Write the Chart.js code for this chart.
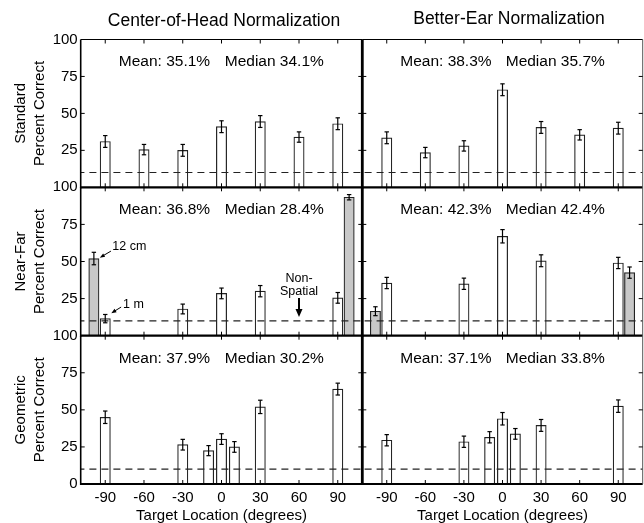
<!DOCTYPE html>
<html><head><meta charset="utf-8">
<script src="https://cdn.jsdelivr.net/npm/chart.js@4.4.1/dist/chart.umd.min.js"></script>
<style>
html,body{margin:0;padding:0;background:#fff;}
body{width:644px;height:523px;position:relative;overflow:hidden;}
</style></head><body>
<script>
// ---------- data ----------
const xTicks = [-90, -60, -30, 0, 30, 60, 90];
const xTickLabels = ['-90', '-60', '-30', '0', '30', '60', '90'];
const yTicks = [0, 25, 50, 75, 100];
const yTickLabels = ['0', '25', '50', '75', '100'];
const columnTitles = ['Center-of-Head Normalization', 'Better-Ear Normalization'];
const rowLabels = ['Standard', 'Near-Far', 'Geometric'];
const yAxisSubLabel = 'Percent Correct';
const xAxisLabel = 'Target Location (degrees)';
const chanceLevel = 10;

// Standard
const stdLocs = [-90, -60, -30, 0, 30, 60, 90];
const stdCohVals = [31, 25.5, 25, 41, 44.5, 34, 43];
const stdCohErr = [4, 3.5, 4, 4, 4, 3.5, 4];
const stdBeVals = [33.5, 23.5, 28, 66, 40.5, 35.5, 40];
const stdBeErr = [4, 3.5, 3.5, 4, 4, 3.5, 4];
const stdCohStats = ['Mean: 35.1%', 'Median 34.1%'];
const stdBeStats = ['Mean: 38.3%', 'Median 35.7%'];

// Near-Far : 1 m (white) and 12 cm (gray)
const nfFarLocs = [-90, -30, 0, 30, 90];
const nfNearLocs = [-90, 90];
const nfCohFarVals = [11.5, 18, 28.5, 30, 25.5];
const nfCohFarErr = [2.8, 3.3, 3.6, 3.8, 3.6];
const nfCohNearVals = [52, 93.3];
const nfCohNearErr = [4.2, 1.8];
const nfBeFarVals = [35.5, 35, 67, 50.5, 49];
const nfBeFarErr = [3.8, 3.8, 4.5, 4, 3.8];
const nfBeNearVals = [16.5, 42.5];
const nfBeNearErr = [3, 3.8];
const nfCohStats = ['Mean: 36.8%', 'Median 28.4%'];
const nfBeStats = ['Mean: 42.3%', 'Median 42.4%'];
const nearLabel = '12 cm';
const farLabel = '1 m';
const nonSpatialLabel = ['Non-', 'Spatial'];

// Geometric
const geoLocs = [-90, -30, -10, 0, 10, 30, 90];
const geoCohVals = [45, 26.5, 22.5, 30.3, 25, 52, 64];
const geoCohErr = [4.2, 3.6, 3.4, 3.6, 3.6, 4.5, 4];
const geoBeVals = [29.5, 28.5, 31.5, 44, 33.8, 39.5, 52.5];
const geoBeErr = [3.8, 3.8, 3.8, 4.2, 3.6, 4, 4.2];
const geoCohStats = ['Mean: 37.9%', 'Median 30.2%'];
const geoBeStats = ['Mean: 37.1%', 'Median 33.8%'];

// ---------- styling / layout ----------
const FONT = '"Liberation Sans", Arial, Helvetica, sans-serif';
Chart.defaults.font.family = FONT;
Chart.defaults.color = '#000';
const NEAR_SHIFT = 8.8;       // gray bars drawn just outside their location
const BAR_PX = 10.3;
const COL = [
  {left: 0, width: 366, padL: 0, padR: 3.7},
  {left: 358, width: 286, padL: 4.3, padR: 1.3}
];
const ROW = [
  {top: 0, height: 202, padT: 39.5, padB: 14.7},
  {top: 172, height: 180, padT: 15.3, padB: 16.3},
  {top: 320, height: 203, padT: 15.7, padB: 0}
];
const TITLE_POS = [{dx: 2.5, y: 21.3}, {dx: 6.5, y: 19.3}];
const PANEL_INFO = {};

function line(ctx, x1, y1, x2, y2, w, c) {
  ctx.lineWidth = w; ctx.strokeStyle = c || '#000';
  ctx.beginPath(); ctx.moveTo(x1, y1); ctx.lineTo(x2, y2); ctx.stroke();
}
function arrow(ctx, x1, y1, x2, y2, w, hl, hw) {
  const ang = Math.atan2(y2 - y1, x2 - x1);
  line(ctx, x1, y1, x2 - (hl - 1) * Math.cos(ang), y2 - (hl - 1) * Math.sin(ang), w);
  ctx.fillStyle = '#000';
  ctx.beginPath();
  ctx.moveTo(x2, y2);
  ctx.lineTo(x2 - hl * Math.cos(ang) + hw / 2 * Math.sin(ang), y2 - hl * Math.sin(ang) - hw / 2 * Math.cos(ang));
  ctx.lineTo(x2 - hl * Math.cos(ang) - hw / 2 * Math.sin(ang), y2 - hl * Math.sin(ang) + hw / 2 * Math.cos(ang));
  ctx.closePath(); ctx.fill();
}

const deco = {
  id: 'deco',
  afterDatasetsDraw(chart) {
    const info = PANEL_INFO[chart.canvas.id];
    const ctx = chart.ctx, xs = chart.scales.x, ys = chart.scales.y, a = chart.chartArea;
    ctx.save();
    // chance level
    const yc = ys.getPixelForValue(chanceLevel);
    ctx.setLineDash([7, 5]);
    ctx.lineDashOffset = -((a.left + COL[info.col].left) % 12);
    line(ctx, a.left, yc, a.right, yc, 1.1, '#222');
    ctx.setLineDash([]);
    // error bars
    chart.data.datasets.forEach((ds, i) => {
      const meta = chart.getDatasetMeta(i);
      meta.data.forEach((el, j) => {
        const v = ds.data[j].y, e = ds.errs[j];
        const x = el.x, y1 = ys.getPixelForValue(v + e), y2 = ys.getPixelForValue(v - e);
        line(ctx, x, y1, x, y2, 1.2);
        line(ctx, x - 2.2, y1, x + 2.2, y1, 1.2);
        line(ctx, x - 2.2, y2, x + 2.2, y2, 1.2);
      });
    });
    // frame
    if (info.row === 0) line(ctx, a.left, a.top, a.right, a.top, 1);
    line(ctx, a.left, a.bottom, a.right, a.bottom, 2.2);
    if (info.col === 0) line(ctx, a.left, a.top, a.left, a.bottom + 1, 1.6);
    else {
      line(ctx, a.left, a.top, a.left, a.bottom + 1, 2.8);
      line(ctx, a.right, a.top, a.right, a.bottom, 1, '#555');
    }
    // inward ticks
    xTicks.forEach(v => {
      const x = xs.getPixelForValue(v);
      line(ctx, x, a.top, x, a.top + 4, 1);
      line(ctx, x, a.bottom, x, a.bottom - 4, 1);
    });
    yTicks.slice(1, -1).forEach(v => {
      const y = ys.getPixelForValue(v);
      line(ctx, a.left, y, a.left + 4, y, 1);
      line(ctx, a.right, y, a.right - 4, y, 1);
    });
    // stats
    ctx.fillStyle = '#000';
    ctx.font = '15.5px ' + FONT;
    ctx.textAlign = 'left'; ctx.textBaseline = 'middle';
    const ys1 = ys.getPixelForValue(84.7);
    ctx.fillText(info.stats[0], xs.getPixelForValue(-79.5), ys1);
    ctx.fillText(info.stats[1], xs.getPixelForValue(2.5), ys1);
    // column title
    if (info.row === 0) {
      ctx.font = '17.5px ' + FONT;
      ctx.textAlign = 'center';
      const tp = TITLE_POS[info.col];
      ctx.fillText(columnTitles[info.col], (a.left + a.right) / 2 + tp.dx, tp.y - ROW[0].top);
    }
    // annotations
    if (info.notes) {
      const P = (x, y) => [xs.getPixelForValue(x), ys.getPixelForValue(y)];
      ctx.font = '12.5px ' + FONT;
      ctx.textAlign = 'left';
      let t = P(-84.5, 59.8); ctx.fillText(nearLabel, t[0], t[1]);
      let p1 = P(-85.6, 57), p2 = P(-94.2, 52.6);
      arrow(ctx, p1[0], p1[1], p2[0], p2[1], 1, 5, 4);
      t = P(-76.2, 20.7); ctx.fillText(farLabel, t[0], t[1]);
      p1 = P(-77.7, 19.3); p2 = P(-85.3, 15.2);
      arrow(ctx, p1[0], p1[1], p2[0], p2[1], 1, 5, 4);
      ctx.textAlign = 'center';
      t = P(60, 38.6); ctx.fillText(nonSpatialLabel[0], t[0], t[1]);
      t = P(60, 29.6); ctx.fillText(nonSpatialLabel[1], t[0], t[1]);
      p1 = P(60, 25.4); p2 = P(60, 12.6);
      arrow(ctx, p1[0], p1[1], p2[0], p2[1], 2, 8, 7);
    }
    ctx.restore();
  }
};

function barSet(locs, vals, errs, fill, shift) {
  return {
    data: locs.map((x, i) => ({x: x + Math.sign(x) * shift, y: vals[i]})),
    errs: errs,
    backgroundColor: fill,
    borderColor: '#222',
    borderWidth: 1.2,
    borderSkipped: 'bottom',
    barThickness: BAR_PX,
    grouped: false
  };
}

function makePanel(id, row, col, datasets, stats, notes) {
  const c = COL[col], r = ROW[row];
  const wrap = document.createElement('div');
  wrap.style.cssText = `position:absolute;left:${c.left}px;top:${r.top}px;width:${c.width}px;height:${r.height}px;`;
  const cv = document.createElement('canvas');
  cv.id = id; cv.width = c.width; cv.height = r.height;
  cv.style.width = c.width + 'px'; cv.style.height = r.height + 'px';
  wrap.appendChild(cv); document.body.appendChild(wrap);
  PANEL_INFO[id] = {row, col, stats, notes};
  const showX = row === 2, showY = col === 0;
  new Chart(cv, {
    type: 'bar',
    data: {datasets},
    options: {
      responsive: false, animation: false, events: [],
      layout: {padding: {left: c.padL, right: c.padR, top: r.padT, bottom: r.padB}},
      plugins: {legend: {display: false}, tooltip: {enabled: false}, title: {display: false}},
      scales: {
        x: {
          type: 'linear', min: -109, max: 109, offset: false, display: showX,
          grid: {display: false, drawTicks: false}, border: {display: false},
          afterBuildTicks: s => { s.ticks = xTicks.map(v => ({value: v})); },
          afterFit: s => { s.height = showX ? 39 : 0; },
          ticks: {autoSkip: false, maxRotation: 0, padding: 5, font: {size: 15}, color: '#000',
                  callback: v => xTickLabels[xTicks.indexOf(v)]},
          title: {display: true, text: xAxisLabel, font: {size: 15, lineHeight: 1},
                  padding: {top: 0, bottom: 0}, color: '#000'}
        },
        y: {
          type: 'linear', min: 0, max: 100, display: showY,
          grid: {display: false, drawTicks: false}, border: {display: false},
          afterBuildTicks: s => { s.ticks = yTicks.map(v => ({value: v})); },
          afterFit: s => { s.width = showY ? 80.7 : 0; },
          ticks: {autoSkip: false, padding: 3, font: {size: 15}, color: '#000',
                  callback: v => (row < 2 && v === 0) ? '' : yTickLabels[yTicks.indexOf(v)]},
          title: {display: true, text: [rowLabels[row], yAxisSubLabel], font: {size: 15, lineHeight: 19 / 15},
                  padding: {top: 11.5, bottom: 0}, color: '#000'}
        }
      }
    },
    plugins: [deco]
  });
}

makePanel('c00', 0, 0, [barSet(stdLocs, stdCohVals, stdCohErr, '#fff', 0)], stdCohStats);
makePanel('c01', 0, 1, [barSet(stdLocs, stdBeVals, stdBeErr, '#fff', 0)], stdBeStats);
makePanel('c10', 1, 0, [barSet(nfFarLocs, nfCohFarVals, nfCohFarErr, '#fff', 0),
                        barSet(nfNearLocs, nfCohNearVals, nfCohNearErr, '#c8c8c8', NEAR_SHIFT)], nfCohStats, true);
makePanel('c11', 1, 1, [barSet(nfFarLocs, nfBeFarVals, nfBeFarErr, '#fff', 0),
                        barSet(nfNearLocs, nfBeNearVals, nfBeNearErr, '#c8c8c8', NEAR_SHIFT)], nfBeStats);
makePanel('c20', 2, 0, [barSet(geoLocs, geoCohVals, geoCohErr, '#fff', 0)], geoCohStats);
makePanel('c21', 2, 1, [barSet(geoLocs, geoBeVals, geoBeErr, '#fff', 0)], geoBeStats);
</script>
</body></html>
